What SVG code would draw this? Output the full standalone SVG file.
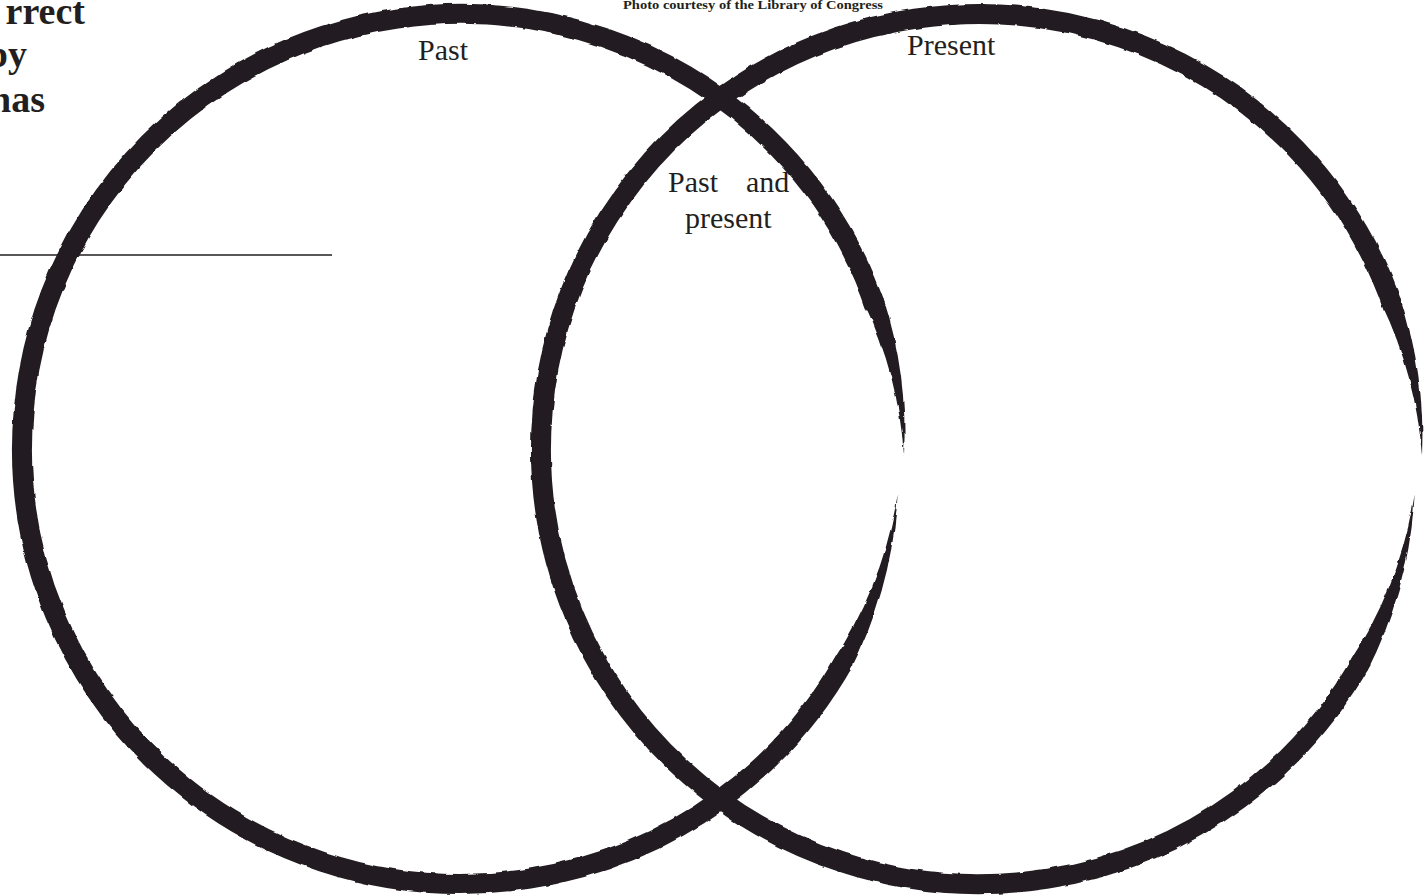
<svg xmlns="http://www.w3.org/2000/svg" width="1428" height="896" viewBox="0 0 1428 896">
<style>
.brush{fill:none;stroke:#231f20;stroke-width:20;stroke-linecap:butt}
.ink{fill:#231f20;stroke:none}
.lbl{font-family:"Liberation Serif","Times New Roman",serif;font-size:30px;fill:#231f20}
.head{font-family:"Liberation Serif","Times New Roman",serif;font-size:38px;font-weight:bold;fill:#231f20}
.cap{font-family:"Liberation Serif","Times New Roman",serif;font-size:12px;font-weight:bold;fill:#231f20}
</style>
<defs>
<filter id="rough" filterUnits="userSpaceOnUse" x="0" y="0" width="1428" height="896">
<feTurbulence type="fractalNoise" baseFrequency="0.07" numOctaves="2" seed="4" result="n"/>
<feDisplacementMap in="SourceGraphic" in2="n" scale="3.5" xChannelSelector="R" yChannelSelector="G"/>
</filter>
</defs>
<rect width="1428" height="896" fill="#ffffff"/>
<g id="heading">
<text class="head" x="85" y="24" text-anchor="end">rrect</text>
<text class="head" x="27" y="67" text-anchor="end">py</text>
<text class="head" x="45" y="112" text-anchor="end">has</text>
<line x1="0" y1="255" x2="332" y2="255" stroke="#231f20" stroke-width="1.6"/>
</g>
<text class="cap" x="623" y="9" textLength="260" lengthAdjust="spacingAndGlyphs">Photo courtesy of the Library of Congress</text>
<g id="circle-past" filter="url(#rough)">
<path class="brush" d="M 876.1,307.4 A 439 435 0 1 0 844.9,659.9"/>
<path class="ink" d="M 883,297 A 449 445 0 0 1 904,456 A 429.5 425.5 0 0 0 864.3,303.5 Z"/>
<path class="ink" d="M 849.8,671.5 A 449 445 0 0 0 897.6,494.5 A 429.5 425.5 0 0 1 832.6,661.6 Z"/>
</g>
<g id="circle-present" filter="url(#rough)">
<path class="brush" d="M 1393.1,307.4 A 438 435 0 1 0 1362.1,659.9"/>
<path class="ink" d="M 1400,297 A 448 445 0 0 1 1422,456 A 428.5 425.5 0 0 0 1381.4,303.5 Z"/>
<path class="ink" d="M 1367,671.5 A 448 445 0 0 0 1414.6,494.5 A 428.5 425.5 0 0 1 1349.7,661.6 Z"/>
</g>
<g id="labels">
<text class="lbl" x="418" y="60">Past</text>
<text class="lbl" x="907" y="55">Present</text>
<text class="lbl" x="668" y="192">Past</text>
<text class="lbl" x="746" y="192">and</text>
<text class="lbl" x="685" y="228">present</text>
</g>
</svg>
